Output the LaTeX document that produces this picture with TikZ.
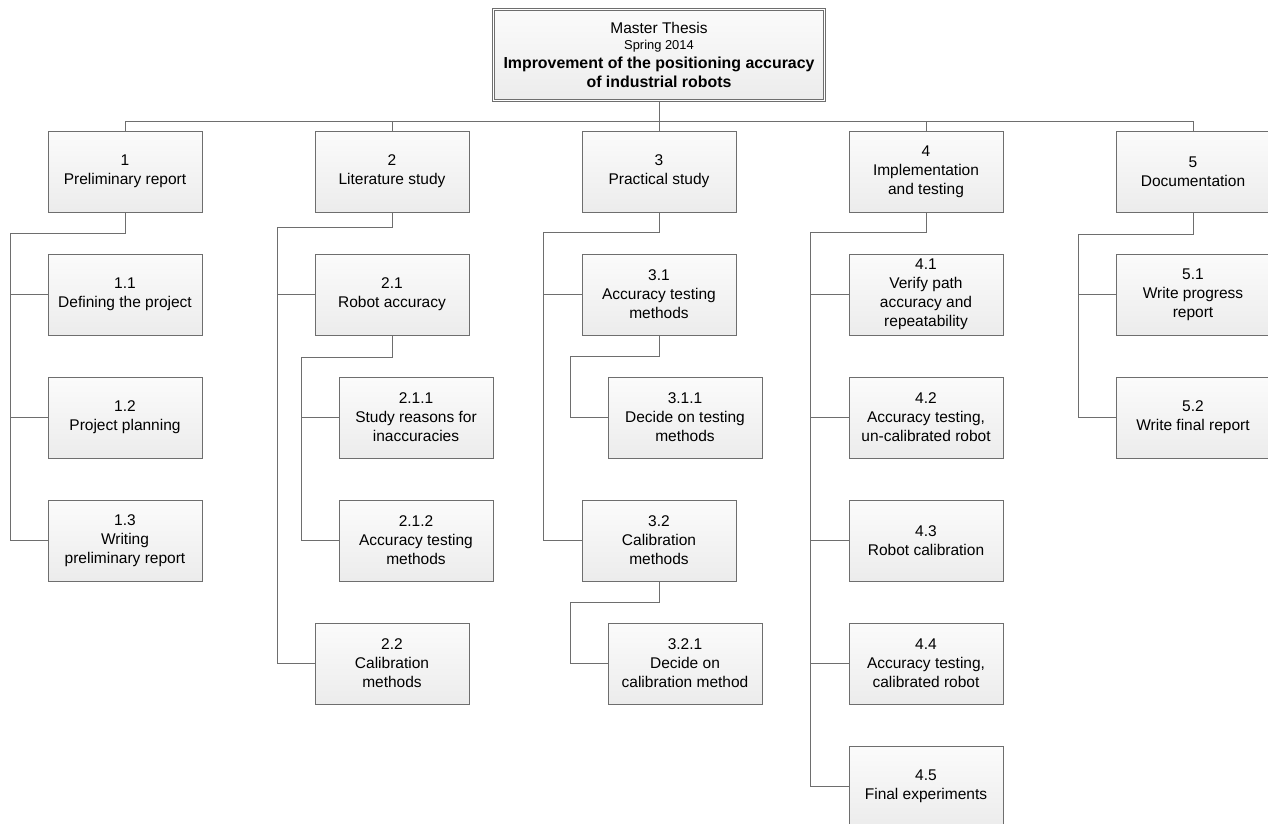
\documentclass[tikz,border=0pt]{standalone}
\usepackage{fontspec}
\setmainfont{Liberation Sans}
\usepackage{tikz}
\usetikzlibrary{calc}
\definecolor{edgegray}{rgb}{0.43,0.43,0.43}
\definecolor{boxtop}{rgb}{0.985,0.985,0.985}
\definecolor{boxbot}{rgb}{0.925,0.925,0.925}
\tikzset{
	box/.style={draw=edgegray,line width=1pt,top color=boxtop,bottom color=boxbot,
		minimum width=154pt,minimum height=81pt,inner sep=2pt,align=center,
		font=\fontsize{15.5}{19}\selectfont},
	thesis/.style={draw=edgegray,double=white,double distance=1.2pt,line width=0.9pt,
		top color=boxtop,bottom color=boxbot,minimum width=331pt,minimum height=91pt,
		inner sep=2pt,align=center,font=\fontsize{15.5}{19}\selectfont},
	link/.style={draw=edgegray,line width=1pt}
}

\begin{document}
\begin{tikzpicture}[x=1pt,y=-1pt,node distance=123pt]
\useasboundingbox (0,0) rectangle (1268,823);

				\draw node [thesis] at (659,55) (root) {Master Thesis\\[-3pt]
					{\fontsize{12.9}{15}\selectfont Spring 2014}\\
					{\fontsize{15.9}{19}\selectfont\bfseries Improvement of the positioning accuracy}\\
					{\fontsize{15.9}{19}\selectfont\bfseries of industrial robots}};

				% top row
				\draw node [box] at (659,171.5) (p3) {3\\Practical study};
				\draw node [box,left of=p3,node distance=267pt] (p2) {2\\Literature study};
				\draw node [box,left of=p2,node distance=267pt] (p1) {1\\Preliminary report};
				\draw node [box,right of=p3,node distance=267pt] (p4) {4\\Implementation\\and testing};
				\draw node [box,right of=p4,node distance=267pt] (p5) {5\\Documentation};

				% 1
				\draw node [box,below of=p1] (p11) {1.1\\Defining the project};
				\draw node [box,below of=p11] (p12) {1.2\\Project planning};
				\draw node [box,below of=p12] (p13) {1.3\\Writing\\preliminary report};

				% 2
				\draw node [box,below of=p2] (p21) {2.1\\Robot accuracy};
				\draw node [box,below of=p21,xshift=24pt] (p211) {2.1.1\\Study reasons for\\inaccuracies};
				\draw node [box,below of=p211] (p212) {2.1.2\\Accuracy testing\\methods};
				\draw node [box,below of=p212,xshift=-24pt] (p22) {2.2\\Calibration\\methods};

				% 3
				\draw node [box,below of=p3] (p31) {3.1\\Accuracy testing\\methods};
				\draw node [box,below of=p31,xshift=26pt] (p311) {3.1.1\\Decide on testing\\methods};
				\draw node [box,below of=p311,xshift=-26pt] (p32) {3.2\\Calibration\\methods};
				\draw node [box,below of=p32,xshift=26pt] (p321) {3.2.1\\Decide on\\calibration method};

				% 4
				\draw node [box,below of=p4] (p41) {4.1\\Verify path\\accuracy and\\repeatability};
				\draw node [box,below of=p41] (p42) {4.2\\Accuracy testing,\\un-calibrated robot};
				\draw node [box,below of=p42] (p43) {4.3\\Robot calibration};
				\draw node [box,below of=p43] (p44) {4.4\\Accuracy testing,\\calibrated robot};
				\draw node [box,below of=p44] (p45) {4.5\\Final experiments};

				% 5
				\draw node [box,below of=p5] (p51) {5.1\\Write progress\\report};
				\draw node [box,below of=p51] (p52) {5.2\\Write final report};

				% bends of the trunks
				\coordinate (bus) at (659,121);
				\coordinate (t1) at (10,233);
				\coordinate (t2) at (277,227);
				\coordinate (t21) at (301,357);
				\coordinate (t3) at (543,232);
				\coordinate (t31) at (570,356);
				\coordinate (t32) at (570,602);
				\coordinate (t4) at (810,232);
				\coordinate (t5) at (1078,234);

				\draw[link] (root.south) -- (bus);
				\draw[link] (bus) -| (p1.north);
				\draw[link] (bus) -| (p2.north);
				\draw[link] (bus) -| (p3.north);
				\draw[link] (bus) -| (p4.north);
				\draw[link] (bus) -| (p5.north);

				\draw[link] (p1.south) |- (t1) |- (p13.west);
				\draw[link] (t1 |- p11.west) -- (p11.west);
				\draw[link] (t1 |- p12.west) -- (p12.west);

				\draw[link] (p2.south) |- (t2) |- (p22.west);
				\draw[link] (t2 |- p21.west) -- (p21.west);
				\draw[link] (p21.south) |- (t21) |- (p212.west);
				\draw[link] (t21 |- p211.west) -- (p211.west);

				\draw[link] (p3.south) |- (t3) |- (p32.west);
				\draw[link] (t3 |- p31.west) -- (p31.west);
				\draw[link] (p31.south) |- (t31) |- (p311.west);
				\draw[link] (p32.south) |- (t32) |- (p321.west);

				\draw[link] (p4.south) |- (t4) |- (p45.west);
				\draw[link] (t4 |- p41.west) -- (p41.west);
				\draw[link] (t4 |- p42.west) -- (p42.west);
				\draw[link] (t4 |- p43.west) -- (p43.west);
				\draw[link] (t4 |- p44.west) -- (p44.west);

				\draw[link] (p5.south) |- (t5) |- (p52.west);
				\draw[link] (t5 |- p51.west) -- (p51.west);
\end{tikzpicture}
\end{document}
